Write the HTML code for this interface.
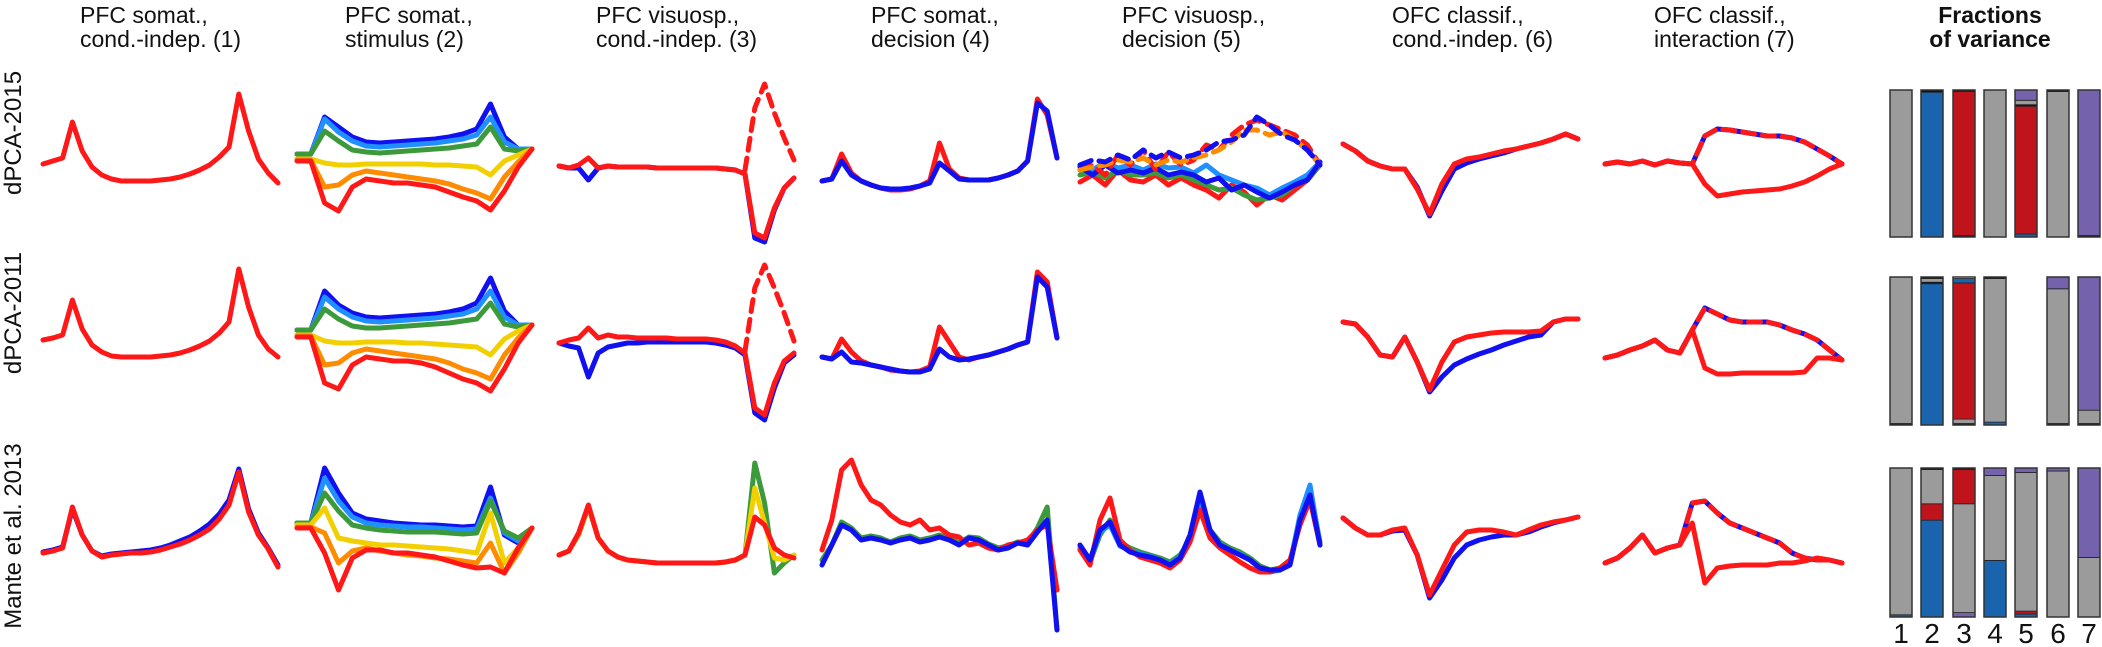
<!DOCTYPE html>
<html><head><meta charset="utf-8">
<style>
html,body{margin:0;padding:0;background:#fff;}
svg{display:block;}
text{font-family:"Liberation Sans",Arial,sans-serif;fill:#111;}
</style></head>
<body>
<svg id="fig" width="2102" height="647" viewBox="0 0 2102 647" xmlns="http://www.w3.org/2000/svg">
<g font-size="23" text-anchor="start">
<text x="80" y="23">PFC somat.,</text>
<text x="80" y="47">cond.-indep. (1)</text>
<text x="345" y="23">PFC somat.,</text>
<text x="345" y="47">stimulus (2)</text>
<text x="596" y="23">PFC visuosp.,</text>
<text x="596" y="47">cond.-indep. (3)</text>
<text x="871" y="23">PFC somat.,</text>
<text x="871" y="47">decision (4)</text>
<text x="1122" y="23">PFC visuosp.,</text>
<text x="1122" y="47">decision (5)</text>
<text x="1392" y="23">OFC classif.,</text>
<text x="1392" y="47">cond.-indep. (6)</text>
<text x="1654" y="23">OFC classif.,</text>
<text x="1654" y="47">interaction (7)</text>
<text x="1990" y="23" font-weight="bold" text-anchor="middle">Fractions</text>
<text x="1990" y="47" font-weight="bold" text-anchor="middle">of variance</text>
</g>
<g font-size="24" text-anchor="middle">
<text transform="translate(21,133) rotate(-90)">dPCA-2015</text>
<text transform="translate(21,313) rotate(-90)">dPCA-2011</text>
<text transform="translate(21,536) rotate(-90)">Mante et al. 2013</text>
</g>
<g id="traces"></g>
<g id="bars"></g>
<g font-size="28" text-anchor="middle">
<text x="1901" y="643">1</text>
<text x="1932" y="643">2</text>
<text x="1964" y="643">3</text>
<text x="1995" y="643">4</text>
<text x="2026" y="643">5</text>
<text x="2058" y="643">6</text>
<text x="2089" y="643">7</text>
</g>
</svg>
<script>
// ---------- trace data (activity values, arbitrary units) ----------
const c1r1_red=[17,20,23,59,30,14,6,2,0,0,0,0,1,2,4,7,11,16,24,34,87,50,22,8,-2];
const c1r2_red=[17,19,22,57,28,12,5,1,0,0,0,0,1,2,4,7,11,16,24,35,88,50,22,8,0];
const c1r3_blue=[5,7,10,48,22,6,1,3,4,5,6,7,9,12,16,20,26,33,43,57,88,48,24,9,-8];
const c1r3_red=[4,6,9,50,22,6,0,2,3,4,4,5,7,10,13,17,22,28,38,52,85,45,22,8,-10];

const c2r1_blue=[3,3,40,30,20,15,14,15,16,17,18,20,23,28,53,20,8,8];
const c2r1_lblue=[3,3,38,25,16,11,10,11,12,13,14,16,18,22,40,15,8,8];
const c2r1_green=[3,3,26,16,7,5,4,5,6,7,8,9,11,13,30,8,6,8];
const c2r1_yellow=[-2,-2,-6,-8,-8,-7,-7,-7,-7,-7,-8,-8,-9,-10,-18,-4,2,8];
const c2r1_orange=[-3,-3,-30,-28,-18,-14,-16,-18,-20,-22,-24,-27,-32,-36,-42,-20,-5,8];
const c2r1_red=[-4,-4,-46,-54,-30,-22,-24,-26,-26,-28,-30,-35,-40,-44,-53,-34,-10,8];
const c2r2_blue=[3,3,42,28,20,16,15,16,17,18,19,21,24,30,55,22,8,8];
const c2r2_lblue=[3,3,36,24,16,12,11,12,13,14,15,17,19,24,42,16,8,8];
const c2r2_green=[3,3,24,14,7,5,5,6,7,8,9,10,12,14,30,9,6,8];
const c2r2_yellow=[-2,-2,-8,-10,-10,-9,-9,-9,-10,-10,-11,-12,-13,-14,-22,-6,2,8];
const c2r2_orange=[-3,-3,-32,-30,-20,-16,-18,-20,-22,-24,-26,-30,-36,-40,-46,-22,-5,8];
const c2r2_red=[-4,-4,-50,-56,-32,-24,-26,-28,-28,-30,-34,-40,-46,-50,-58,-36,-10,8];
const c2r3_blue=[0,0,55,30,10,4,2,0,-1,-2,-2,-3,-4,-3,36,-12,-20,-5];
const c2r3_lblue=[0,0,45,22,6,0,-2,-3,-4,-4,-5,-6,-7,-6,25,-10,-18,-5];
const c2r3_green=[0,0,30,12,-2,-5,-7,-8,-9,-9,-9,-10,-11,-10,22,-8,-15,-5];
const c2r3_yellow=[-2,-2,15,-15,-18,-20,-22,-22,-23,-24,-25,-26,-28,-30,10,-40,-25,-5];
const c2r3_orange=[-4,-4,-10,-40,-28,-25,-28,-30,-32,-33,-35,-36,-38,-40,-20,-50,-30,-5];
const c2r3_red=[-5,-5,-30,-67,-35,-27,-27,-30,-30,-32,-34,-38,-42,-45,-44,-50,-25,-5];

const c3r1_blue=[2,0,0,-12,0,2,1,1,1,1,0,0,0,0,0,0,0,-1,-2,-6,-70,-74,-42,-20,-10];
const c3r1_red=[2,0,3,10,0,2,1,1,1,1,0,0,0,0,0,0,0,-1,-2,-6,-65,-70,-40,-20,-10];
const c3r1_dash=[null,null,null,null,null,null,null,null,null,null,null,null,null,null,null,null,null,null,null,-2,60,84,55,30,8];
const c3r2_blue=[0,-3,-5,-34,-10,-4,-2,0,0,1,1,1,1,1,1,1,0,-2,-5,-12,-70,-77,-45,-20,-12];
const c3r2_red=[0,3,5,15,5,8,6,6,5,5,5,5,4,4,4,4,3,1,-3,-10,-65,-72,-40,-18,-10];
const c3r2_dash=[null,null,null,null,null,null,null,null,null,null,null,null,null,null,null,null,null,null,null,-8,55,78,55,30,2];
const c3r3_green=[8,12,28,56,25,12,6,3,2,1,0,0,0,0,0,0,0,1,3,8,100,60,-10,0,8];
const c3r3_yellow=[8,12,29,57,25,12,6,3,2,1,0,0,0,0,0,0,0,1,3,8,75,40,5,3,8];
const c3r3_red=[8,12,30,58,25,12,6,3,2,1,0,0,0,0,0,0,0,1,3,8,46,38,15,8,5];

const c4r1_blue=[0,2,20,6,0,-4,-7,-8,-8,-7,-5,-2,18,10,2,1,1,1,3,6,10,20,78,70,23];
const c4r1_red=[0,2,27,8,0,-4,-7,-9,-9,-8,-5,0,38,12,3,1,1,1,3,6,10,20,82,66,23];
const c4r2_blue=[0,-2,5,-5,-6,-8,-10,-12,-14,-15,-15,-12,8,0,-3,-2,0,2,5,8,12,15,80,70,19];
const c4r2_red=[0,-2,18,5,-4,-8,-10,-13,-14,-15,-14,-10,30,15,0,-3,0,2,5,8,12,15,85,75,19];
const c4r3_green=[-20,-5,18,12,2,4,2,-2,2,4,0,2,5,2,-3,3,2,-4,-8,-6,-2,-3,12,33,-90];
const c4r3_blue=[-25,-5,15,10,0,2,0,-3,0,2,-2,0,3,0,-5,2,0,-5,-10,-8,-3,-5,8,20,-90];
const c4r3_red=[-10,20,70,80,55,40,35,25,18,15,20,10,12,5,3,-5,-3,-8,-10,-5,-3,0,10,15,-50];

const c5r1_red=[-12,-5,-15,0,-10,-12,-5,-15,-8,-15,-20,-28,-15,-22,-35,-25,-30,-20,-10,5];
const c5r1_green=[-5,-2,-8,0,-5,-5,-3,-8,-5,-10,-15,-20,-18,-25,-30,-28,-25,-15,-10,5];
const c5r1_lblue=[5,0,8,2,5,0,6,2,3,-3,5,-5,-10,-15,-18,-25,-18,-12,-5,8];
const c5r1_blue=[3,-5,5,-3,0,-3,2,-5,-2,-5,-12,-8,-20,-15,-22,-28,-22,-15,-10,8];
const c5r1_dred=[0,5,-5,15,5,20,0,18,5,10,25,20,35,45,50,45,40,35,25,5];
const c5r1_dorange=[0,3,5,10,8,12,5,10,8,12,15,20,28,40,40,35,38,30,20,5];
const c5r1_dblue=[5,10,8,15,10,20,12,18,12,15,20,28,30,35,53,45,35,30,20,5];
const c5r3_green=[12,-2,25,40,18,12,8,5,2,-2,5,20,52,30,18,12,8,2,-6,-10,-8,-2,40,70,18];
const c5r3_lblue=[14,0,28,35,14,10,6,4,0,-4,3,22,58,28,16,10,6,0,-8,-12,-10,-4,45,75,15];
const c5r3_blue=[15,0,30,38,15,8,5,3,0,-5,2,25,68,30,15,10,5,0,-8,-10,-10,-5,40,65,15];
const c5r3_red=[10,-5,40,62,20,10,3,0,-3,-8,0,18,50,22,12,5,-2,-8,-12,-12,-8,0,35,60,15];

const c6r1_blue=[25,18,8,3,0,0,-18,-47,-22,0,6,10,13,16,20,23,26,30,35,30];
const c6r1_red=[25,18,8,3,0,0,-20,-45,-15,5,10,12,15,18,20,23,26,30,35,30];
const c6r2_blue=[35,33,20,2,0,20,-5,-35,-20,-8,-2,3,7,12,16,20,22,35,38,38];
const c6r2_red=[35,33,20,2,0,20,-5,-33,-5,15,20,22,24,25,25,25,26,35,38,38];
const c6r3_blue=[22,12,5,5,9,10,-15,-58,-40,-18,-5,0,3,5,5,8,13,17,20,23];
const c6r3_red=[22,12,5,5,10,12,-15,-55,-30,-5,8,10,10,8,5,10,15,18,20,23];

const c7r1_upper=[0,2,0,3,-1,3,1,0,28,35,34,32,30,28,28,26,22,15,8,0];
const c7r1_lower=[0,2,0,3,-1,3,1,0,-20,-32,-30,-28,-27,-26,-25,-22,-18,-12,-5,0];
const c7r2_upper=[0,3,8,12,18,8,5,28,50,44,38,36,36,36,33,28,24,18,8,-2];
const c7r2_lower=[0,3,8,12,18,8,5,28,-10,-16,-16,-15,-15,-15,-15,-15,-14,0,0,-2];
const c7r3_upper=[0,5,15,28,10,15,18,60,62,50,40,35,30,25,20,10,5,3,3,0];
const c7r3_lower=[0,5,15,28,10,15,18,40,-20,-5,-3,-2,-2,-2,0,0,2,5,3,0];

// ---------- fractions of variance (bottom -> top segments) ----------
const barComponents=["gray","blue","red","purple","black"];
const row1_bars=[[["gray",1]],[["blue",0.985],["black",0.015]],[["black",0.01],["red",0.98],["black",0.01]],[["gray",1]],[["blue",0.02],["red",0.87],["black",0.01],["gray",0.03],["purple",0.07]],[["gray",0.99],["black",0.01]],[["black",0.01],["purple",0.99]]];
const row2_bars=[[["black",0.01],["gray",0.99]],[["blue",0.955],["black",0.01],["gray",0.025],["black",0.01]],[["black",0.01],["gray",0.03],["red",0.92],["blue",0.03]],[["blue",0.02],["gray",0.97],["black",0.01]],[],[["black",0.01],["gray",0.91],["purple",0.08]],[["black",0.01],["gray",0.09],["purple",0.9]]];
const row3_bars=[[["blue",0.015],["gray",0.985]],[["blue",0.65],["red",0.11],["gray",0.23],["black",0.01]],[["purple",0.03],["gray",0.73],["red",0.23],["black",0.01]],[["blue",0.38],["gray",0.57],["purple",0.05]],[["blue",0.02],["red",0.02],["gray",0.93],["purple",0.03]],[["gray",0.98],["purple",0.02]],[["gray",0.4],["purple",0.6]]];

// ---------- styling / layout ----------
const LC={blue:"#1010f0",lblue:"#1e90ff",green:"#3c9a3c",yellow:"#f2d000",orange:"#ff8c00",red:"#ff1818"};
const BC={gray:"#9b9b9b",blue:"#1a64ad",red:"#c0141c",purple:"#7462ad",black:"#111"};
const colX=[[43,278],[297,532],[559,794],[822,1057],[1080,1320],[1343,1578],[1605,1842]];
const rowY=[[181,357,557],[157,333,523],[168,343,563],[181,357,540],[170,0,560],[169,357,540],[164,358,563]];

const panels=[
 [0,0,[["red",c1r1_red]]],[0,1,[["red",c1r2_red]]],[0,2,[["blue",c1r3_blue],["red",c1r3_red]]],
 [1,0,[["blue",c2r1_blue],["lblue",c2r1_lblue],["green",c2r1_green],["yellow",c2r1_yellow],["orange",c2r1_orange],["red",c2r1_red]]],
 [1,1,[["blue",c2r2_blue],["lblue",c2r2_lblue],["green",c2r2_green],["yellow",c2r2_yellow],["orange",c2r2_orange],["red",c2r2_red]]],
 [1,2,[["blue",c2r3_blue],["lblue",c2r3_lblue],["green",c2r3_green],["yellow",c2r3_yellow],["orange",c2r3_orange],["red",c2r3_red]]],
 [2,0,[["blue",c3r1_blue],["red",c3r1_red],["red",c3r1_dash,1]]],
 [2,1,[["blue",c3r2_blue],["red",c3r2_red],["red",c3r2_dash,1]]],
 [2,2,[["green",c3r3_green],["yellow",c3r3_yellow],["red",c3r3_red]]],
 [3,0,[["red",c4r1_red],["blue",c4r1_blue]]],
 [3,1,[["red",c4r2_red],["blue",c4r2_blue]]],
 [3,2,[["green",c4r3_green],["red",c4r3_red],["blue",c4r3_blue]]],
 [4,0,[["red",c5r1_red],["green",c5r1_green],["lblue",c5r1_lblue],["blue",c5r1_blue],["red",c5r1_dred,1],["orange",c5r1_dorange,1],["blue",c5r1_dblue,1]]],
 [4,2,[["green",c5r3_green],["lblue",c5r3_lblue],["red",c5r3_red],["blue",c5r3_blue]]],
 [5,0,[["blue",c6r1_blue],["red",c6r1_red]]],
 [5,1,[["blue",c6r2_blue],["red",c6r2_red]]],
 [5,2,[["blue",c6r3_blue],["red",c6r3_red]]],
 [6,0,[["blue",c7r1_upper],["red",c7r1_upper,1],["red",c7r1_lower]]],
 [6,1,[["blue",c7r2_upper],["red",c7r2_upper,1],["red",c7r2_lower]]],
 [6,2,[["blue",c7r3_upper],["red",c7r3_upper,1],["red",c7r3_lower]]]
];

const NS="http://www.w3.org/2000/svg";
function xScale(col,i,n){const [a,b]=colX[col];return a+(b-a)*i/(n-1);}
function yScale(col,row,v){return rowY[col][row]-v;}

const tg=document.getElementById("traces");
panels.forEach(([col,row,series])=>{
  const g=document.createElementNS(NS,"g");
  
  
  series.forEach(([c,vals,dashed])=>{
    let d="";let pen=false;
    vals.forEach((v,i)=>{
      if(v===null){pen=false;return;}
      d+=(pen?"L":"M")+xScale(col,i,vals.length).toFixed(1)+","+yScale(col,row,v).toFixed(1);
      pen=true;
    });
    const p=document.createElementNS(NS,"path");
    
    
    p.setAttribute("d",d);p.setAttribute("fill","none");
    p.setAttribute("stroke",LC[c]);p.setAttribute("stroke-width","5");
    p.setAttribute("stroke-linejoin","round");p.setAttribute("stroke-linecap","round");
    if(dashed)p.setAttribute("stroke-dasharray","12 8");
    g.appendChild(p);
  });
  tg.appendChild(g);
});

// bars
const bg=document.getElementById("bars");
const barX=[1890,1921,1953,1984,2015,2047,2078];
const barRows=[[90,237],[277,425],[468,617]];
[row1_bars,row2_bars,row3_bars].forEach((rowData,r)=>{
  const [top,bot]=barRows[r];
  rowData.forEach((segs,b)=>{
    if(!segs.length)return;
    let acc=0;
    segs.forEach(([comp,f])=>{
      const y1=bot-(bot-top)*(acc+f), y0=bot-(bot-top)*acc;
      const rc=document.createElementNS(NS,"rect");
      
      
      rc.setAttribute("x",barX[b]);rc.setAttribute("y",y1.toFixed(1));
      rc.setAttribute("width",22);rc.setAttribute("height",Math.max(0.8,y0-y1).toFixed(1));
      rc.setAttribute("fill",BC[comp]);
      rc.setAttribute("stroke","#222");rc.setAttribute("stroke-width","0.8");
      bg.appendChild(rc);
      acc+=f;
    });
    const o=document.createElementNS(NS,"rect");
    
    
    o.setAttribute("x",barX[b]);o.setAttribute("y",top);o.setAttribute("width",22);o.setAttribute("height",bot-top);
    o.setAttribute("fill","none");o.setAttribute("stroke","#333");o.setAttribute("stroke-width","1.5");
    bg.appendChild(o);
  });
});
</script>
</body></html>
